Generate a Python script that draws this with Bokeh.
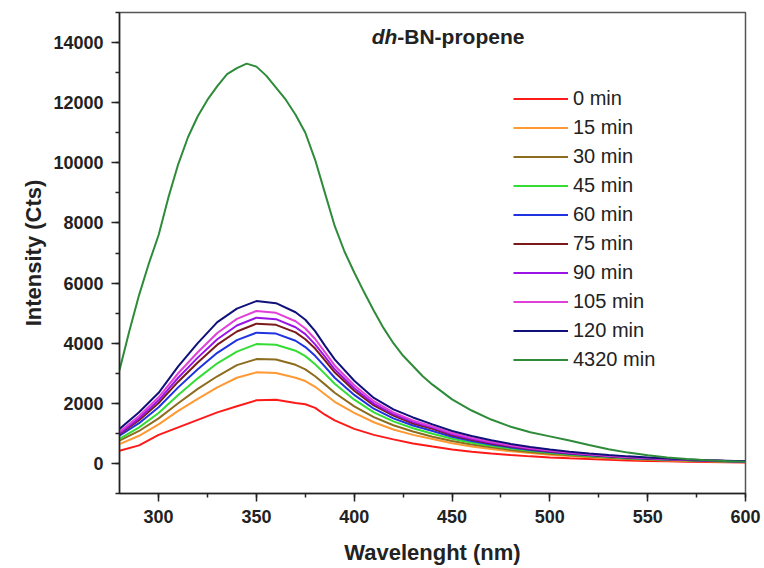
from bokeh.plotting import figure
from bokeh.models import Legend, LegendItem, Label, SingleIntervalTicker, Range1d
from bokeh.embed import file_html
from bokeh.resources import INLINE

# ---------------- data ----------------
wavelength = [280, 290, 300, 310, 320, 330, 340, 350, 360, 370, 375, 380, 385, 390, 400,
              410, 420, 430, 440, 450, 460, 470, 480, 490, 500, 510, 520, 530,
              540, 550, 560, 570, 580, 590, 600]

min_0 = [420, 600, 950, 1200, 1450, 1700, 1900, 2100, 2120, 2010, 1970, 1850, 1620, 1430, 1150,
         950, 800, 660, 560, 465, 390, 330, 280, 235, 200, 170, 145, 120,
         100, 85, 70, 58, 48, 40, 33]
min_15 = [645, 920, 1300, 1750, 2150, 2530, 2850, 3030, 3010, 2850, 2740, 2550, 2300, 2050, 1680,
          1370, 1130, 950, 810, 670, 565, 480, 405, 345, 290, 245, 205, 175,
          145, 120, 100, 85, 70, 58, 48]
min_30 = [760, 1080, 1500, 2000, 2480, 2900, 3270, 3470, 3460, 3280, 3130, 2900, 2630, 2350, 1900,
          1540, 1270, 1060, 890, 745, 630, 535, 450, 380, 320, 270, 228, 192,
          160, 135, 112, 94, 78, 64, 53]
min_45 = [820, 1200, 1680, 2280, 2830, 3330, 3720, 3970, 3950, 3750, 3570, 3300, 2980, 2650, 2120,
          1700, 1400, 1170, 990, 820, 690, 585, 495, 418, 352, 297, 250, 210,
          176, 148, 124, 103, 85, 70, 58]
min_60 = [920, 1340, 1870, 2530, 3130, 3680, 4100, 4350, 4320, 4080, 3870, 3580, 3220, 2850, 2280,
          1820, 1500, 1260, 1080, 885, 745, 630, 532, 450, 378, 320, 270, 227,
          190, 160, 134, 111, 92, 76, 62]
min_75 = [970, 1440, 2010, 2720, 3360, 3950, 4390, 4650, 4610, 4360, 4130, 3820, 3430, 3030, 2420,
          1930, 1590, 1330, 1150, 935, 788, 666, 562, 475, 400, 338, 285, 240,
          200, 168, 140, 116, 96, 79, 65]
min_90 = [1000, 1500, 2100, 2850, 3520, 4130, 4590, 4850, 4800, 4530, 4300, 3960, 3550, 3130, 2500,
          1990, 1640, 1380, 1190, 970, 815, 690, 582, 492, 414, 350, 295, 248,
          207, 174, 145, 120, 99, 82, 67]
min_105 = [1050, 1580, 2200, 3000, 3700, 4340, 4810, 5070, 5010, 4730, 4490, 4140, 3700, 3260, 2600,
           2070, 1700, 1430, 1230, 1010, 850, 718, 605, 512, 430, 364, 307, 258,
           215, 180, 150, 124, 102, 84, 69]
min_120 = [1150, 1700, 2350, 3230, 4000, 4700, 5150, 5400, 5330, 5030, 4780, 4400, 3920, 3460, 2750,
           2180, 1800, 1530, 1300, 1080, 910, 770, 650, 550, 460, 390, 330, 280,
           235, 200, 165, 135, 110, 90, 70]

wavelength_4320 = [280, 285, 290, 295, 300, 305, 310, 315, 320, 325, 330, 335, 340, 345,
                   350, 355, 360, 365, 370, 375, 380, 385, 390, 395, 400, 405, 410, 415,
                   420, 425, 430, 435, 440, 450, 460, 470, 480, 490, 500, 510, 520, 530,
                   540, 550, 560, 570, 580, 590, 600]
min_4320 = [3100, 4400, 5600, 6650, 7600, 8850, 9950, 10850, 11550, 12100, 12550, 12950, 13150, 13300,
            13200, 12900, 12500, 12100, 11600, 11000, 10100, 9000, 7900, 7050, 6350, 5700, 5080, 4500,
            4000, 3580, 3240, 2900, 2620, 2130, 1760, 1460, 1220, 1040, 900, 760, 610, 470,
            360, 270, 200, 150, 110, 80, 60]

labels = ["0 min", "15 min", "30 min", "45 min", "60 min", "75 min", "90 min",
          "105 min", "120 min", "4320 min"]
colors = ["#ff1a1a", "#ff9933", "#8c6d1f", "#33dd33", "#1f33e0", "#7a1a1a",
          "#9a14e6", "#e040d8", "#10107a", "#2e8b3a"]

series_y = [min_0, min_15, min_30, min_45, min_60, min_75, min_90, min_105, min_120, min_4320]
series_x = [wavelength] * 9 + [wavelength_4320]

FONT = "Liberation Sans"

p = figure(width=764, height=568, output_backend="svg", toolbar_location=None,
           x_range=Range1d(280, 600), y_range=Range1d(-1000, 15000),
           min_border_left=119, min_border_right=19, min_border_top=12, min_border_bottom=75)
p.background_fill_color = "white"
p.border_fill_color = "white"
p.xgrid.visible = False
p.ygrid.visible = False
p.outline_line_color = "#555555"
p.outline_line_width = 1.5

items = []
for xs, ys, lab, col in zip(series_x, series_y, labels, colors):
    r = p.line(xs, ys, line_color=col, line_width=2)
    items.append(LegendItem(label=lab, renderers=[r]))

legend = Legend(items=items, location=(394, 122), padding=0, margin=0,
                border_line_color=None, background_fill_alpha=0,
                label_text_font=FONT, label_text_font_size="20px", label_text_color="#222222",
                glyph_width=55, glyph_height=23, label_height=23, label_standoff=5, spacing=6)
p.add_layout(legend)

for ax in (p.xaxis[0], p.yaxis[0]):
    ax.axis_line_color = "#222222"
    ax.axis_line_width = 1.5
    ax.major_tick_line_color = "#222222"
    ax.minor_tick_line_color = "#222222"
    ax.major_tick_line_width = 1.5
    ax.minor_tick_line_width = 1.5
    ax.major_tick_out = 8
    ax.major_tick_in = 0
    ax.minor_tick_out = 4
    ax.minor_tick_in = 0
    ax.major_label_text_font = FONT
    ax.major_label_text_font_size = "18px"
    ax.major_label_text_font_style = "bold"
    ax.major_label_text_color = "#222222"
    ax.axis_label_text_font = FONT
    ax.axis_label_text_font_size = "22px"
    ax.axis_label_text_font_style = "bold"
    ax.axis_label_text_color = "#222222"

p.xaxis[0].ticker = SingleIntervalTicker(interval=50, num_minor_ticks=2)
p.yaxis[0].ticker = SingleIntervalTicker(interval=2000, num_minor_ticks=2)
p.xaxis[0].axis_label = "Wavelenght (nm)"
p.yaxis[0].axis_label = "Intensity (Cts)"
p.xaxis[0].major_label_standoff = 8
p.yaxis[0].major_label_standoff = 8
p.xaxis[0].axis_label_standoff = 14
p.yaxis[0].axis_label_standoff = 4

t1 = Label(x=422, y=14200, text="dh", text_font=FONT, text_font_size="21px",
           text_font_style="bold italic", text_color="#222222",
           text_align="right", text_baseline="middle")
t2 = Label(x=422, y=14200, text="-BN-propene", text_font=FONT, text_font_size="21px",
           text_font_style="bold", text_color="#222222",
           text_align="left", text_baseline="middle")
p.add_layout(t1)
p.add_layout(t2)

open("out.html", "w").write(file_html(p, INLINE))
